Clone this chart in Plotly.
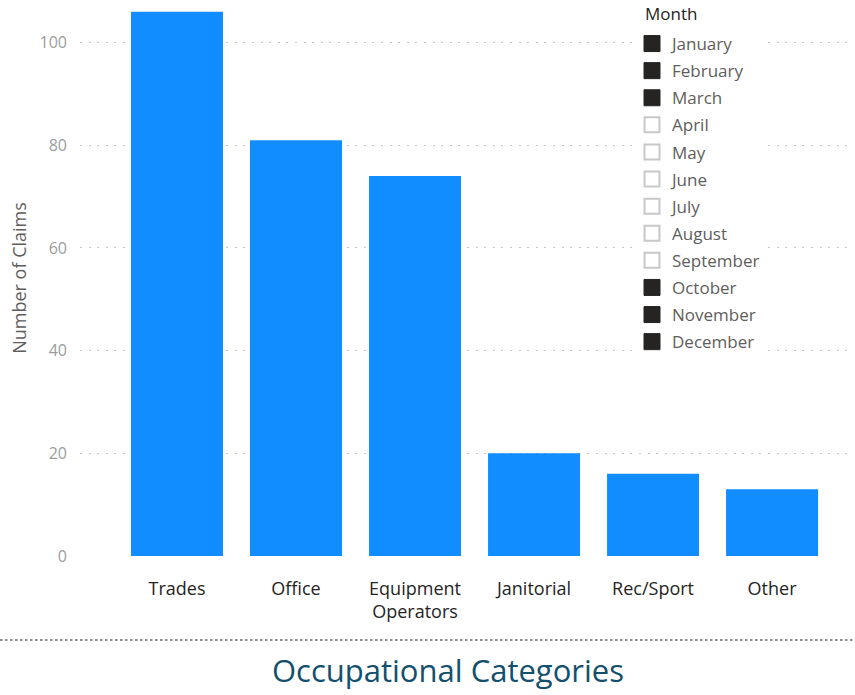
import plotly.graph_objects as go

# ---- data ----
categories = ["Trades", "Office", "Equipment<br>Operators", "Janitorial", "Rec/Sport", "Other"]
claims = [106, 81, 74, 20, 16, 13]

months = ["January", "February", "March", "April", "May", "June",
          "July", "August", "September", "October", "November", "December"]
month_selected = [True, True, True, False, False, False,
                  False, False, False, True, True, True]

y_ticks = [0, 20, 40, 60, 80, 100]

# ---- colours ----
COLOR_BAR = "#118DFF"
COLOR_DARK = "#252423"
COLOR_LABEL = "#605E5C"
COLOR_TICK = "#9c9c9c"
COLOR_GRID = "#c8c8c8"
COLOR_TITLE = "#12506e"
FONT = "Segoe UI, Open Sans, sans-serif"

W, H = 855, 695
PLOT_L, PLOT_R, PLOT_B = 80, 853, 556
PW = PLOT_R - PLOT_L

fig = go.Figure()

fig.add_trace(go.Bar(
    x=categories, y=claims,
    marker=dict(color=COLOR_BAR, line=dict(width=0)),
    showlegend=False,
))

# slicer-like month legend
for m, sel in zip(months, month_selected):
    if sel:
        marker = dict(symbol="square", size=16, color=COLOR_DARK,
                      line=dict(color=COLOR_DARK, width=1))
    else:
        marker = dict(symbol="square", size=15, color="white",
                      line=dict(color=COLOR_GRID, width=2))
    fig.add_trace(go.Scatter(
        x=[None], y=[None], mode="markers", name=m,
        marker=marker, legendgroup=m, showlegend=True,
    ))

fig.update_layout(
    width=W, height=H, autosize=False,
    paper_bgcolor="white", plot_bgcolor="white",
    margin=dict(l=PLOT_L, r=W - PLOT_R, t=0, b=H - PLOT_B, pad=0, autoexpand=False),
    bargap=0.227,
    font=dict(family=FONT, color=COLOR_DARK),
    title=dict(
        text="Occupational Categories",
        font=dict(family=FONT, size=31, color=COLOR_TITLE),
        xref="container", yref="container",
        x=448 / W, y=1 - 671 / H, xanchor="center", yanchor="middle",
    ),
    legend=dict(
        font=dict(family=FONT, size=17, color=COLOR_LABEL),
        xref="paper", yref="paper",
        x=(632 - PLOT_L) / PW, y=1 - 26 / PLOT_B, xanchor="left", yanchor="top",
        bgcolor="white", borderwidth=0,
        traceorder="grouped", tracegroupgap=2,
        itemclick=False, itemdoubleclick=False,
    ),
    annotations=[dict(
        text="Month", showarrow=False,
        xref="paper", yref="paper",
        x=(643 - PLOT_L) / PW, y=1 - 14 / PLOT_B, xanchor="left", yanchor="middle",
        font=dict(family=FONT, size=17, color=COLOR_DARK),
    )],
    xaxis=dict(
        type="category",
        range=[-0.815, 5.68],
        showgrid=False, zeroline=False, showline=False,
        ticks="", ticklabelstandoff=20, tickangle=0,
        tickfont=dict(family=FONT, size=18, color=COLOR_DARK),
        fixedrange=True,
    ),
    yaxis=dict(
        range=[0, 108.3],
        tickvals=y_ticks,
        showgrid=True, gridcolor=COLOR_GRID, gridwidth=1.2, griddash="2px,6.6px",
        zeroline=False, showline=False, ticks="",
        ticklabelstandoff=12,
        tickfont=dict(family=FONT, size=16, color=COLOR_TICK),
        title=dict(text="Number of Claims", standoff=8,
                   font=dict(family=FONT, size=18, color=COLOR_LABEL)),
        fixedrange=True,
    ),
    shapes=[
        # slicer background hides the grid behind it
        dict(type="rect", xref="paper", yref="paper", layer="between",
             x0=(627 - PLOT_L) / PW, x1=(815 - PLOT_L) / PW,
             y0=1 - 358 / PLOT_B, y1=1,
             fillcolor="white", line=dict(width=0)),
        # dotted separator above the title
        dict(type="line", xref="paper", yref="paper",
             x0=(0 - PLOT_L) / PW, x1=(W - PLOT_L) / PW,
             y0=(PLOT_B - 640) / PLOT_B, y1=(PLOT_B - 640) / PLOT_B,
             line=dict(color="#6b6b6b", width=1.3, dash="2.5px,2.5px")),
    ],
)

fig.write_html("out.html", config={"displayModeBar": False},
               post_script="document.body.style.margin='0px';")
